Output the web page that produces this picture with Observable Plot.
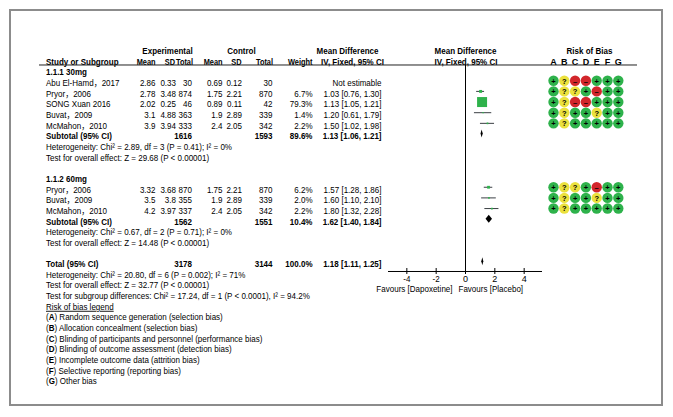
<!DOCTYPE html>
<html><head><meta charset="utf-8">
<script src="https://cdn.jsdelivr.net/npm/d3@7"></script>
<script src="https://cdn.jsdelivr.net/npm/@observablehq/plot@0.6"></script>
<style>
body{margin:0;background:#fff;}
#wrap{position:relative;width:673px;height:417px;}
#border{position:absolute;left:9px;top:9px;width:654px;height:397px;box-sizing:border-box;border:2px solid #8c8c8c;pointer-events:none;}
#wrap svg{display:block;}
</style></head><body><div id="wrap"><div id="border"></div></div>
<script>
// ---------- data ----------
const groupLabels = ["1.1.1 30mg", "1.1.2 60mg"];

const studies30 = ["Abu El-Hamd，2017", "Pryor，2006", "SONG Xuan 2016", "Buvat，2009", "McMahon，2010"];
const expMean30 = [2.86, 2.78, 2.02, 3.1, 3.9];
const expSD30   = [0.33, 3.48, 0.25, 4.88, 3.94];
const expN30    = [30, 874, 46, 363, 333];
const ctlMean30 = [0.69, 1.75, 0.89, 1.9, 2.4];
const ctlSD30   = [0.12, 2.21, 0.11, 2.89, 2.05];
const ctlN30    = [30, 870, 42, 339, 342];
const weight30  = [null, 6.7, 79.3, 1.4, 2.2];
const md30      = [null, 1.03, 1.13, 1.20, 1.50];
const lo30      = [null, 0.76, 1.05, 0.61, 1.02];
const hi30      = [null, 1.30, 1.21, 1.79, 1.98];
const rob30     = ["+?--+++", "+??+-++", "+?--+++", "+?++?++", "+?+++++"];

const studies60 = ["Pryor，2006", "Buvat，2009", "McMahon，2010"];
const expMean60 = [3.32, 3.5, 4.2];
const expSD60   = [3.68, 3.8, 3.97];
const expN60    = [870, 355, 337];
const ctlMean60 = [1.75, 1.9, 2.4];
const ctlSD60   = [2.21, 2.89, 2.05];
const ctlN60    = [870, 339, 342];
const weight60  = [6.2, 2.0, 2.2];
const md60      = [1.57, 1.60, 1.80];
const lo60      = [1.28, 1.10, 1.32];
const hi60      = [1.86, 2.10, 2.28];
const rob60     = ["+??+-++", "+?++?++", "+?+++++"];

const subLabels = ["Subtotal (95% CI)", "Subtotal (95% CI)", "Total (95% CI)"];
const subExpN   = [1616, 1562, 3178];
const subCtlN   = [1593, 1551, 3144];
const subWeight = [89.6, 10.4, 100.0];
const subMD     = [1.13, 1.62, 1.18];
const subLo     = [1.06, 1.40, 1.11];
const subHi     = [1.21, 1.84, 1.25];

const hetNotes = ["Heterogeneity: Chi² = 2.89, df = 3 (P = 0.41); I² = 0%",
                  "Heterogeneity: Chi² = 0.67, df = 2 (P = 0.71); I² = 0%"];
const effectNotes = ["Test for overall effect: Z = 29.68 (P < 0.00001)",
                     "Test for overall effect: Z = 14.48 (P < 0.00001)"];
const totalNotes = ["Heterogeneity: Chi² = 20.80, df = 6 (P = 0.002); I² = 71%",
                    "Test for overall effect: Z = 32.77 (P < 0.00001)",
                    "Test for subgroup differences: Chi² = 17.24, df = 1 (P < 0.0001), I² = 94.2%"];
const legendTitle = "Risk of bias legend";
const biasLegend = ["(A) Random sequence generation (selection bias)",
                    "(B) Allocation concealment (selection bias)",
                    "(C) Blinding of participants and personnel (performance bias)",
                    "(D) Blinding of outcome assessment (detection bias)",
                    "(E) Incomplete outcome data (attrition bias)",
                    "(F) Selective reporting (reporting bias)",
                    "(G) Other bias"];
const robLetters = ["A", "B", "C", "D", "E", "F", "G"];
const robCodes = ["+", "?", "-"];
const topHeaders = ["Experimental", "Control", "Mean Difference", "Mean Difference", "Risk of Bias"];
const colHeaders = ["Mean", "SD", "Total", "Mean", "SD", "Total", "Weight"];
const ciHeader = "IV, Fixed, 95% CI";
const studyHeader = "Study or Subgroup";
const axisTicks = [-4, -2, 0, 2, 4];
const favours = ["Favours [Dapoxetine]", "Favours [Placebo]"];

// ---------- layout (rows) ----------
const ML = 39, MR = 36, MB = 146;
const FS = 9, SQUEEZE = 0.89;
const fmt2 = v => v.toFixed(2);
const ci = (m, l, h) => `${fmt2(m)} [${fmt2(l)}, ${fmt2(h)}]`;

function mkStudies(names, em, es, en, cm, cs, cn, w, md, lo, hi, rob, row0) {
  return names.map((s, i) => ({
    row: row0 + i, name: s, em: String(em[i]), es: String(es[i]), en: String(en[i]),
    cm: String(cm[i]), cs: String(cs[i]), cn: String(cn[i]),
    wTxt: w[i] == null ? "" : w[i].toFixed(1) + "%",
    w: w[i], md: md[i], lo: lo[i], hi: hi[i],
    mdTxt: md[i] == null ? "Not estimable" : ci(md[i], lo[i], hi[i]),
    rob: rob[i]
  }));
}
const studyRows = [
  ...mkStudies(studies30, expMean30, expSD30, expN30, ctlMean30, ctlSD30, ctlN30, weight30, md30, lo30, hi30, rob30, 3),
  ...mkStudies(studies60, expMean60, expSD60, expN60, ctlMean60, ctlSD60, ctlN60, weight60, md60, lo60, hi60, rob60, 13)
];
const subRowIdx = [8, 16, 20];
const subRows = subLabels.map((s, i) => ({
  row: subRowIdx[i], name: s, en: String(subExpN[i]), cn: String(subCtlN[i]),
  wTxt: subWeight[i].toFixed(1) + "%", md: subMD[i], lo: subLo[i], hi: subHi[i],
  mdTxt: ci(subMD[i], subLo[i], subHi[i]), g: i
}));
const diamondPts = subRows.flatMap(d => [
  {g: d.g, x: d.lo, y1: d.row, y2: d.row},
  {g: d.g, x: d.md, y1: d.row - 0.37, y2: d.row + 0.37},
  {g: d.g, x: d.hi, y1: d.row, y2: d.row}
]);
const groupRows = groupLabels.map((s, i) => ({row: [2, 12][i], text: s}));
const noteRows = [
  {row: 9, text: hetNotes[0]}, {row: 10, text: effectNotes[0]},
  {row: 17, text: hetNotes[1]}, {row: 18, text: effectNotes[1]},
  ...totalNotes.map((t, i) => ({row: 21 + i, text: t})),
  {row: 24, text: legendTitle},
  ...biasLegend.map((t, i) => ({row: 25 + i, text: t}))
];

const headerRule = 1.52, axisRow = 20.91;
const colRight = {em: 155, es: 175.5, en: 191.5, cm: 222, cs: 241.5, cn: 272, w: 312, md: 381};
const colKeys = ["em", "es", "en", "cm", "cs", "cn", "w"];
const headerRight = [155, 174.5, 192.5, 222, 241, 272.5, 312];
const topHeaderX = [167, 241, 347, 465, 589];
const robX0 = 553, robStep = 10.8;

const TXT = {fontSize: FS, lineAnchor: "middle", dy: 2.5, fill: "#000"};
const at = (xPix, anchor, opts = {}) => ({frameAnchor: "left", dx: xPix - ML, textAnchor: anchor, ...TXT, ...opts});

const marks = [];
// header texts
topHeaders.forEach((h, i) => marks.push(Plot.text([h], {y: () => 0, text: d => d, ...at(topHeaderX[i], "middle", {fontWeight: "bold"})})));
marks.push(Plot.text([studyHeader], {y: () => 1, text: d => d, ...at(45.5, "start", {fontWeight: "bold"})}));
colHeaders.forEach((h, i) => marks.push(Plot.text([h], {y: () => 1, text: d => d, ...at(headerRight[i], "end", {fontWeight: "bold", className: "hdr"})})));
marks.push(Plot.text([ciHeader], {y: () => 1, text: d => d, ...at(352, "middle", {fontWeight: "bold"})}));
marks.push(Plot.text([ciHeader], {y: () => 1, text: d => d, ...at(465.5, "middle", {fontWeight: "bold"})}));
robLetters.forEach((L, k) => marks.push(Plot.text([L], {y: () => 1, text: d => d, ...at(robX0 + k * robStep, "middle", {fontWeight: "bold"})})));
marks.push(Plot.ruleY([headerRule], {stroke: "#222", strokeWidth: 1}));

// group labels, study names, notes
marks.push(Plot.text(groupRows, {y: "row", text: "text", ...at(45.5, "start", {fontWeight: "bold"})}));
marks.push(Plot.text(studyRows, {y: "row", text: "name", ...at(45.5, "start")}));
marks.push(Plot.text(noteRows, {y: "row", text: "text", ...at(45.5, "start")}));

// numeric columns
["em", "es", "en", "cm", "cs", "cn"].forEach(k => marks.push(Plot.text(studyRows, {y: "row", text: k, ...at(colRight[k], "end")})));
marks.push(Plot.text(studyRows, {y: "row", text: "wTxt", ...at(colRight.w, "end")}));
marks.push(Plot.text(studyRows, {y: "row", text: "mdTxt", ...at(colRight.md, "end")}));

// subtotal rows (bold)
marks.push(Plot.text(subRows, {y: "row", text: "name", ...at(45.5, "start", {fontWeight: "bold"})}));
marks.push(Plot.text(subRows, {y: "row", text: "en", ...at(colRight.en, "end", {fontWeight: "bold"})}));
marks.push(Plot.text(subRows, {y: "row", text: "cn", ...at(colRight.cn, "end", {fontWeight: "bold"})}));
marks.push(Plot.text(subRows, {y: "row", text: "wTxt", ...at(colRight.w, "end", {fontWeight: "bold"})}));
marks.push(Plot.text(subRows, {y: "row", text: "mdTxt", ...at(colRight.md, "end", {fontWeight: "bold"})}));

// forest plot
const est = studyRows.filter(d => d.md != null);
marks.push(Plot.ruleX([0], {y1: headerRule, y2: axisRow, stroke: "#000", strokeWidth: 1}));
marks.push(Plot.ruleY(est, {y: "row", x1: "lo", x2: "hi", stroke: "#3a3f44", strokeWidth: 1}));
marks.push(Plot.dot(est, {x: "md", y: "row", r: "w", symbol: "square", fill: "#2eb24b", stroke: "none"}));
marks.push(Plot.areaY(diamondPts, {x: "x", y1: "y1", y2: "y2", z: "g", fill: "#000", curve: "linear"}));

// axis
marks.push(Plot.ruleY([axisRow], {x1: -5.25, x2: 5.25, stroke: "#000", strokeWidth: 1}));
marks.push(Plot.ruleX(axisTicks, {x: d => d, y1: axisRow - 0.28, y2: axisRow, stroke: "#000"}));
marks.push(Plot.axisX({anchor: "bottom", ticks: axisTicks, tickSize: 3, tickPadding: 1.5, label: null,
  tickFormat: d => String(d), fontSize: FS, stroke: "#000", fill: "#000"}));
marks.push(Plot.text([favours[0]], {x: () => 0, y: () => 22.35, text: d => d, textAnchor: "end", ...TXT, dx: -13}));
marks.push(Plot.text([favours[1]], {x: () => 0, y: () => 22.35, text: d => d, textAnchor: "start", ...TXT, dx: -7}));

// risk of bias circles
const symText = c => c === "-" ? "–" : c;
robLetters.forEach((L, k) => {
  marks.push(Plot.dot(studyRows, {y: "row", frameAnchor: "left", dx: robX0 + k * robStep - ML, r: 5.2, fill: d => d.rob[k], stroke: "none"}));
  marks.push(Plot.text(studyRows, {y: "row", frameAnchor: "left", dx: robX0 + k * robStep - ML, text: d => symText(d.rob[k]),
    textAnchor: "middle", lineAnchor: "middle", fontSize: 7.5, fontWeight: "bold", fill: "#000", dy: 0.5}));
});

const plot = Plot.plot({
  width: 673, height: 417,
  marginLeft: ML, marginRight: MR, marginTop: 0, marginBottom: MB,
  x: {domain: [-5.25, 5.25], range: [388, 542]},
  y: {domain: [0, 31], range: [48.3, 48.3 + 31 * 10.65], axis: null},
  r: {type: "sqrt", domain: [0, 79.3], range: [0, 5.64]},
  color: {type: "ordinal", domain: robCodes, range: ["#2eb24b", "#ebe13d", "#d2262b"]},
  style: {fontFamily: "Arial, 'Liberation Sans', 'Noto Sans CJK SC', sans-serif", fontSize: FS + "px", color: "#000", background: "#fff", overflow: "visible"},
  marks
});

// legend styling: underline title, bold letter in "(A)"
d3.select(plot).selectAll("text").each(function () {
  const t = this.textContent;
  if (t === legendTitle) d3.select(this).attr("text-decoration", "underline");
  if (biasLegend.includes(t)) {
    const m = /^\(([A-G])\)(.*)$/.exec(t);
    const s = d3.select(this);
    s.text("");
    s.append("tspan").text("(");
    s.append("tspan").attr("font-weight", "bold").text(m[1]);
    s.append("tspan").text(")" + m[2]);
  }
});
document.getElementById("wrap").prepend(plot);

// Narrow the glyphs a little (the reference uses a slightly condensed rendering)
d3.select(plot).selectAll("text").each(function () {
  const t = this.textContent;
  if (t.length < 2) return;
  const inHdr = this.closest("g") && this.closest("g").classList.contains("hdr");
  const len = this.getComputedTextLength();
  this.setAttribute("textLength", (len * (inHdr ? 0.82 : SQUEEZE)).toFixed(2));
  this.setAttribute("lengthAdjust", "spacingAndGlyphs");
});
</script>
</body></html>
